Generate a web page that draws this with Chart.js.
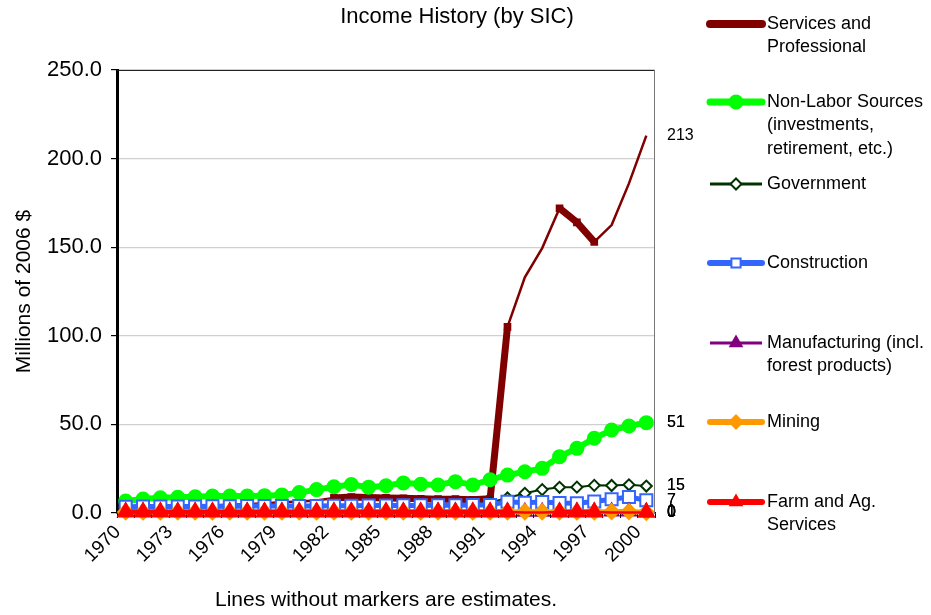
<!DOCTYPE html>
<html>
<head>
<meta charset="utf-8">
<script src="https://cdn.jsdelivr.net/npm/chart.js@4.4.0/dist/chart.umd.min.js"></script>
<style>
  html, body { margin: 0; padding: 0; background: #fff; }
  #wrap { width: 931px; height: 615px; position: relative; }
</style>
</head>
<body>
<div id="wrap"><canvas id="incomeChart" width="931" height="615"></canvas></div>
<script>
// categories
var years = [1970, 1971, 1972, 1973, 1974, 1975, 1976, 1977, 1978, 1979,
             1980, 1981, 1982, 1983, 1984, 1985, 1986, 1987, 1988, 1989,
             1990, 1991, 1992, 1993, 1994, 1995, 1996, 1997, 1998, 1999, 2000];
var tickYears = [1970, 1973, 1976, 1979, 1982, 1985, 1988, 1991, 1994, 1997, 2000];

// values, millions of 2006 $
var servicesValues = [3.0, 3.2, 3.5, 3.8, 4.0, 4.3, 4.6, 5.0, 5.5, 6.0,
                      6.5, 7.0, 8.5, 9.0, 8.8, 8.5, 8.3, 8.0, 7.8, 7.8,
                      7.5, 8.0, 105, 133, 149.5, 172, 164, 153, 162.5, 186, 213];
var nonLaborValues = [6.8, 7.9, 8.6, 8.9, 9.2, 9.6, 9.6, 9.6, 9.8, 10.2,
                      11.5, 13.2, 14.8, 16.1, 14.6, 15.4, 17.0, 16.2, 15.8, 17.7,
                      15.8, 18.8, 21.4, 23.3, 25.2, 31.8, 36.5, 42.2, 46.8, 49.1, 51.0];
var governmentValues = [2.5, 2.6, 2.8, 2.9, 3.0, 3.1, 3.2, 3.3, 3.5, 3.6,
                        3.8, 3.9, 4.0, 4.0, 4.1, 4.2, 4.3, 4.4, 4.5, 4.6,
                        4.8, 6.0, 8.5, 11.1, 13.2, 14.5, 14.6, 15.6, 15.5, 15.9, 15.2];
var constructionValues = [3.5, 3.6, 3.6, 3.7, 3.7, 3.8, 3.8, 3.9, 3.9, 4.0,
                          4.0, 4.0, 4.1, 4.1, 4.2, 4.2, 4.3, 4.3, 4.4, 4.4,
                          4.5, 4.5, 6.4, 5.8, 6.2, 5.6, 5.5, 6.5, 7.8, 9.0, 7.2];
var manufacturingValues = [0.8, 0.8, 0.8, 0.8, 0.8, 0.8, 0.8, 0.8, 0.8, 0.8,
                           0.8, 0.8, 0.8, 0.8, 0.8, 0.8, 0.8, 0.8, 0.8, 0.8,
                           0.8, 0.8, 0.8, 0.7, 0.7, 0.8, 0.8, 0.8, 0.8, 0.8, 0.7];
var miningValues = [0.6, 0.6, 0.6, 0.6, 0.6, 0.6, 0.6, 0.6, 0.6, 0.6,
                    0.6, 0.6, 0.6, 0.6, 0.6, 0.6, 0.6, 0.6, 0.6, 0.6,
                    0.6, 0.6, 0.6, 0.7, 0.7, 0.6, 0.6, 0.6, 0.8, 0.8, 0.4];
var farmValues = [0.5, 0.5, 0.5, 0.5, 0.5, 0.5, 0.5, 0.5, 0.5, 0.5,
                  0.5, 0.5, 0.5, 0.5, 0.5, 0.5, 0.5, 0.5, 0.5, 0.5,
                  0.5, 0.5, 0.5, 0.3, 0.3, 0.5, 0.5, 0.5, 0.3, 0.3, 0.3];

// years that are estimates (drawn thin, no marker)
var servicesEstimated = [1970, 1971, 1972, 1973, 1974, 1975, 1976, 1977, 1978, 1979,
                         1980, 1981, 1993, 1994, 1998, 1999, 2000];
var farmEstimated = [1993, 1994, 1998, 1999];

var series = [
    { label: ['Services and', 'Professional'], data: servicesValues, est: servicesEstimated,
      color: '#800000', width: 7, style: 'rect', radius: 4, fill: '#800000', legendY: 24 },
    { label: ['Non-Labor Sources', '(investments,', 'retirement, etc.)'], data: nonLaborValues, est: [],
      color: '#00ff00', width: 6, style: 'circle', radius: 6.5, fill: '#00ff00', legendY: 102 },
    { label: ['Government'], data: governmentValues, est: [],
      color: '#003300', width: 2, style: 'rectRot', radius: 5.5, fill: '#ffffff', legendY: 184 },
    { label: ['Construction'], data: constructionValues, est: [],
      color: '#3366ff', width: 5, style: 'rect', radius: 8.5, fill: '#ffffff', legendY: 263 },
    { label: ['Manufacturing (incl.', 'forest products)'], data: manufacturingValues, est: [],
      color: '#800080', width: 2, style: 'triangle', radius: 8, fill: '#800080', legendY: 343 },
    { label: ['Mining'], data: miningValues, est: [],
      color: '#ff9900', width: 5, style: 'rectRot', radius: 7.5, fill: '#ff9900', legendY: 422 },
    { label: ['Farm and Ag.', 'Services'], data: farmValues, est: farmEstimated,
      color: '#ff0000', width: 5, style: 'triangle', radius: 8.7, fill: '#ff0000', legendY: 502 }
];

function isEst(s, i) {
    return s.est.indexOf(years[i]) !== -1;
}

var datasets = series.map(function (s, k) {
    return {
        label: s.label.join(' '),
        data: s.data,
        borderColor: s.color,
        backgroundColor: s.fill,
        borderWidth: s.width,
        pointStyle: s.style,
        pointBackgroundColor: s.fill,
        pointBorderColor: s.color,
        pointBorderWidth: 2,
        pointRadius: function (c) { return isEst(s, c.dataIndex) ? 0 : s.radius; },
        pointHoverRadius: function (c) { return isEst(s, c.dataIndex) ? 0 : s.radius; },
        tension: 0,
        clip: false,
        order: series.length - k,
        segment: {
            borderWidth: function (c) {
                return (isEst(s, c.p0DataIndex) || isEst(s, c.p1DataIndex)) ? 2.5 : s.width;
            }
        }
    };
});

var FONT = '"Liberation Sans", Arial, Helvetica, sans-serif';

var decorPlugin = {
    id: 'decor',
    afterDraw: function (chart) {
        var ctx = chart.ctx;
        var area = chart.chartArea;
        var yScale = chart.scales.y;
        ctx.save();

        // plot area border (top, right)
        ctx.lineWidth = 1;
        ctx.strokeStyle = '#222';
        ctx.beginPath();
        ctx.moveTo(area.left, area.top + 0.5);
        ctx.lineTo(area.right, area.top + 0.5);
        ctx.stroke();
        ctx.strokeStyle = '#777';
        ctx.beginPath();
        ctx.moveTo(area.right - 0.5, area.top);
        ctx.lineTo(area.right - 0.5, area.bottom);
        ctx.stroke();

        // title
        ctx.fillStyle = '#000';
        ctx.font = '22px ' + FONT;
        ctx.textAlign = 'center';
        ctx.textBaseline = 'middle';
        ctx.fillText('Income History (by SIC)', 457, 17);

        // values at the end of each line
        ctx.font = '16px ' + FONT;
        ctx.textAlign = 'left';
        series.forEach(function (s) {
            var last = s.data[s.data.length - 1];
            var y = yScale.getPixelForValue(last);
            ctx.fillText(String(Math.round(last)), 667, y);
            if (!isEst(s, s.data.length - 1)) {
                ctx.fillText(String(Math.round(last)), 667, y);
            }
        });

        // legend
        ctx.font = '18px ' + FONT;
        series.forEach(function (s) {
            var y = s.legendY;
            ctx.strokeStyle = s.color;
            ctx.lineWidth = s.width + 1;
            ctx.lineCap = s.width > 3 ? 'round' : 'butt';
            ctx.beginPath();
            ctx.moveTo(710, y);
            ctx.lineTo(762, y);
            ctx.stroke();
            ctx.lineCap = 'butt';
            ctx.fillStyle = s.fill;
            ctx.strokeStyle = s.color;
            ctx.lineWidth = 2;
            Chart.helpers.drawPoint(ctx, {
                pointStyle: s.style, radius: Math.min(s.radius, 6.5), rotation: 0, borderWidth: 2
            }, 736, y);
            ctx.fillStyle = '#000';
            s.label.forEach(function (line, j) {
                ctx.fillText(line, 767, y + j * 23.5);
            });
        });
        ctx.restore();
    }
};

var chart = new Chart(document.getElementById('incomeChart').getContext('2d'), {
    type: 'line',
    data: { labels: years, datasets: datasets },
    options: {
        responsive: false,
        animation: false,
        events: [],
        layout: { padding: { left: 0, right: 276, top: 70, bottom: 0 } },
        plugins: {
            legend: { display: false },
            tooltip: { enabled: false },
            title: { display: false }
        },
        scales: {
            x: {
                type: 'category',
                offset: true,
                grid: { display: true, drawOnChartArea: false, offset: true, color: '#000', tickLength: 5 },
                border: { color: '#000', width: 1.5 },
                ticks: {
                    autoSkip: false,
                    minRotation: 45,
                    maxRotation: 45,
                    labelOffset: -8,
                    color: '#000',
                    font: { family: FONT, size: 19 },
                    callback: function (val, i) {
                        return tickYears.indexOf(years[i]) !== -1 ? String(years[i]) : '';
                    }
                },
                title: {
                    display: true,
                    text: 'Lines without markers are estimates.',
                    color: '#000',
                    font: { family: FONT, size: 21 },
                    padding: { top: 0, bottom: 2 }
                },
                afterFit: function (scale) { scale.height = 102; }
            },
            y: {
                min: 0,
                max: 250,
                ticks: {
                    stepSize: 50,
                    color: '#000',
                    padding: 9,
                    font: { family: FONT, size: 22 },
                    callback: function (v) { return v.toFixed(1); }
                },
                grid: { color: '#d0d0d0', tickColor: '#000', tickLength: 6, lineWidth: 1.2 },
                border: { color: '#000', width: 3 },
                title: {
                    display: true,
                    text: 'Millions of 2006 $',
                    color: '#000',
                    font: { family: FONT, size: 21 },
                    padding: { top: 12, bottom: 0 }
                },
                afterFit: function (scale) { scale.width = 117; }
            }
        }
    },
    plugins: [decorPlugin]
});
</script>
</body>
</html>
